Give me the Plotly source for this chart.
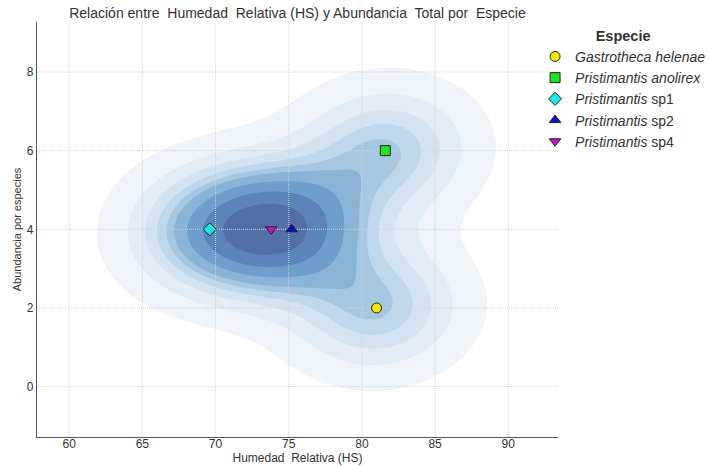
import numpy as np
import plotly.graph_objects as go

# ---- data ----
especies = ["Gastrotheca helenae", "Pristimantis anolirex", "Pristimantis sp1",
            "Pristimantis sp2", "Pristimantis sp4"]
etiquetas = ["<i>Gastrotheca helenae</i>", "<i>Pristimantis anolirex</i>",
             "<i>Pristimantis</i> sp1", "<i>Pristimantis</i> sp2", "<i>Pristimantis</i> sp4"]
humedad = [81.0, 81.6, 69.6, 75.2, 73.8]
abundancia = [2, 6, 4, 4, 4]
x_ticks = [60, 65, 70, 75, 80, 85, 90]
y_ticks = [0, 2, 4, 6, 8]

# ---- styles ----
simbolos = ["circle", "square", "diamond", "triangle-up", "triangle-down"]
colores = ["#f5e800", "#22e022", "#22e5e5", "#1010c8", "#c414c8"]
band_colors = ["rgba(255,255,255,0)", "#eef4fa", "#e2ecf6", "#d3e3f1", "#bed7eb",
               "#a5c7e2", "#89b4d8", "#6d9ecc", "#5b85ba", "#5370a6"]
FONT = "Liberation Sans, Arial, sans-serif"
TXT = "#333333"
XR = [57.8, 93.4]
YR = [-1.28, 9.27]

# ---- bivariate gaussian KDE (scott) ----
data = np.vstack([humedad, abundancia]).astype(float)
n = data.shape[1]
factor = n ** (-1.0 / 6.0)
cov = np.cov(data) * factor ** 2
inv = np.linalg.inv(cov)
norm = n * 2 * np.pi * np.sqrt(np.linalg.det(cov))
bw = np.sqrt(np.diag(cov))
gx = np.linspace(data[0].min() - 3 * bw[0], data[0].max() + 3 * bw[0], 200)
gy = np.linspace(data[1].min() - 3 * bw[1], data[1].max() + 3 * bw[1], 200)
X, Y = np.meshgrid(gx, gy)
pts = np.stack([X.ravel(), Y.ravel()])
diff = pts[:, :, None] - data[:, None, :]
q = np.einsum("imn,ij,jmn->mn", diff, inv, diff)
dens = (np.exp(-q / 2).sum(axis=1) / norm).reshape(X.shape)

isoprop = np.linspace(0.05, 1, 10)
vals = dens.ravel()
sv = np.sort(vals)[::-1]
nv = np.cumsum(sv) / vals.sum()
idx = np.searchsorted(nv, 1 - isoprop)
levels = np.take(sv, idx, mode="clip")
Z = np.where(dens >= levels[0], np.interp(dens, levels, np.arange(1, 11)), dens / levels[0])

fig = go.Figure()
fig.add_trace(go.Contour(
    x=gx, y=gy, z=Z, autocontour=False,
    contours=dict(start=1, end=9, size=1, coloring="fill", showlines=False),
    colorscale=[[k / 9, c] for k, c in enumerate(band_colors)],
    showscale=False, hoverinfo="skip", line_width=0, showlegend=False))

# grid lines drawn above the density fill but below the markers
gxs, gys = [], []
for t in x_ticks:
    gxs += [t, t, None]
    gys += [YR[0], YR[1], None]
for t in y_ticks:
    gxs += [XR[0], XR[1], None]
    gys += [t, t, None]
fig.add_trace(go.Scatter(x=gxs, y=gys, mode="lines", hoverinfo="skip", showlegend=False,
                         line=dict(color="#d2d2d2", width=1, dash="1px,1px")))

for e, lab, xv, yv, s, c in zip(especies, etiquetas, humedad, abundancia, simbolos, colores):
    fig.add_trace(go.Scatter(
        x=[xv], y=[yv], mode="markers", name=lab,
        marker=dict(symbol=s, color=c, size=10, line=dict(color="#222222", width=1))))

fig.update_layout(
    width=710, height=466,
    margin=dict(l=37, r=152, t=22, b=29, autoexpand=False),
    paper_bgcolor="white", plot_bgcolor="white",
    font=dict(family=FONT, size=12, color=TXT),
    title=dict(text="Relación entre\u00a0 Humedad\u00a0 Relativa (HS) y Abundancia\u00a0 Total por\u00a0 Especie",
               x=0.5, xref="paper", xanchor="center", y=1 - 13 / 466, yref="container",
               yanchor="middle", font=dict(size=14, color=TXT, family=FONT)),
    xaxis=dict(range=XR, tickvals=x_ticks, showgrid=False, zeroline=False,
               showline=True, linecolor="#555555", linewidth=1.3, ticks="",
               ticklabelstandoff=-5,
               tickfont=dict(size=12, color=TXT),
               title=dict(text="Humedad\u00a0 Relativa (HS)", font=dict(size=12, color=TXT), standoff=4)),
    yaxis=dict(range=YR, tickvals=y_ticks, showgrid=False, zeroline=False,
               showline=True, linecolor="#555555", linewidth=1.3, ticks="",
               tickfont=dict(size=12, color=TXT),
               title=dict(text="Abundancia por especies", font=dict(size=11, color=TXT), standoff=2)),
    legend=dict(x=0.956, xanchor="left", y=1.0, yanchor="top",
                bgcolor="rgba(0,0,0,0)", font=dict(size=14, color=TXT, family=FONT),
                title=dict(text="<b>Especie</b>", side="top center",
                           font=dict(size=14.5, color=TXT, family=FONT))),
)

fig.write_html("out.html")
